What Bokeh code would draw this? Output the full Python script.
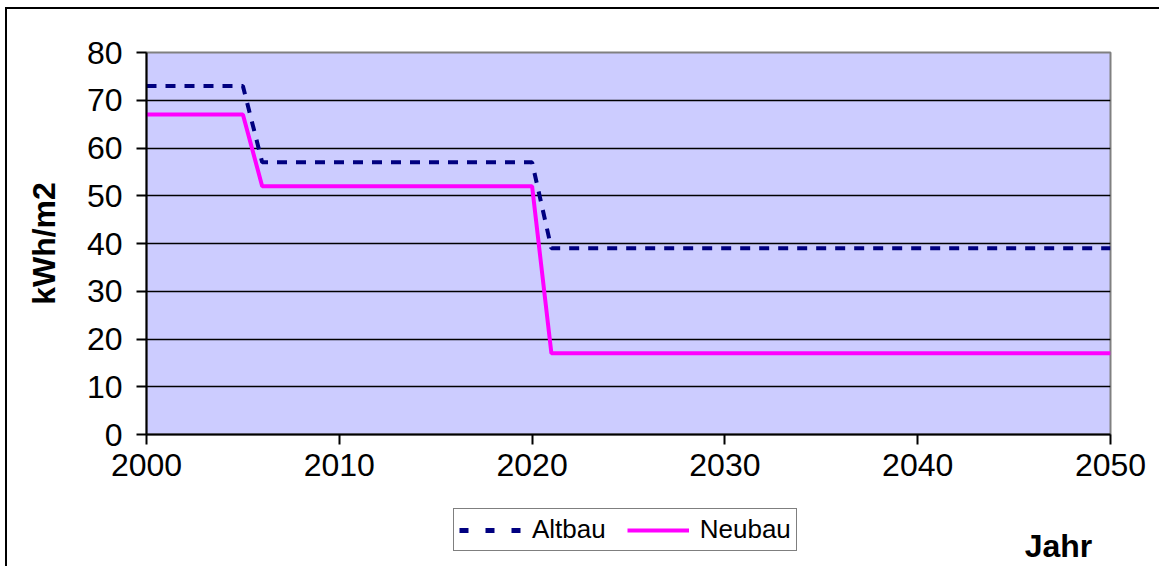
from bokeh.plotting import figure
from bokeh.layouts import column
from bokeh.models import (Range1d, SingleIntervalTicker, Legend, LegendItem,
                          Label)
from bokeh.embed import file_html
from bokeh.resources import INLINE

# ---- data ----
years = [2000, 2005, 2006, 2020, 2021, 2050]
altbau = [73, 73, 57, 57, 39, 39]
neubau = [67, 67, 52, 52, 17, 17]
y_title = "kWh/m2"
x_title = "Jahr"
series_names = ["Altbau", "Neubau"]

FONT = "Liberation Sans"
ALT_STYLE = dict(line_color="#000080", line_width=4, line_dash="10 9")
NEU_STYLE = dict(line_color="#FF00FF", line_width=4)

# ---------------- main chart ----------------
p = figure(width=1159, height=500, frame_width=964, frame_height=382,
           min_border_left=146, min_border_right=49, min_border_top=52,
           min_border_bottom=66, output_backend="svg", toolbar_location=None,
           x_range=Range1d(2000, 2050), y_range=Range1d(0, 80))

# outer chart border (top and left edges)
p.styles = {
    "background-color": "white",
    "background-image": "linear-gradient(black, black), linear-gradient(black, black)",
    "background-size": "2px 100%, 100% 2px",
    "background-position": "5px 7px, 5px 7px",
    "background-repeat": "no-repeat",
}

p.background_fill_color = "#CCCCFF"
p.border_fill_color = None
p.outline_line_color = "#808080"
p.outline_line_width = 2

p.xgrid.visible = False
p.ygrid.grid_line_color = "black"
p.ygrid.grid_line_width = 1.5
p.ygrid.ticker = SingleIntervalTicker(interval=10)

for ax in (p.xaxis[0], p.yaxis[0]):
    ax.axis_line_color = "black"
    ax.axis_line_width = 2
    ax.major_tick_line_color = "black"
    ax.major_tick_line_width = 2
    ax.major_tick_out = 10
    ax.major_tick_in = 0
    ax.minor_tick_line_color = None
    ax.major_label_text_font = FONT
    ax.major_label_text_font_size = "32px"
    ax.major_label_text_color = "black"

p.xaxis.ticker = SingleIntervalTicker(interval=10)
p.yaxis.ticker = SingleIntervalTicker(interval=10)
p.xaxis.major_label_standoff = 9
p.yaxis.major_label_standoff = 14

p.yaxis.axis_label = y_title
p.yaxis.axis_label_text_font = FONT
p.yaxis.axis_label_text_font_style = "bold"
p.yaxis.axis_label_text_font_size = "32px"
p.yaxis.axis_label_text_color = "black"
p.yaxis.axis_label_standoff = 22

p.line(years, altbau, **ALT_STYLE)
p.line(years, neubau, **NEU_STYLE)

# ---------------- bottom strip: legend and "Jahr" ----------------
# (its plot frame is aligned by the column with the main frame: x 146..1110)
q = figure(width=1159, height=66, min_border=0, output_backend="svg",
           toolbar_location=None, x_axis_type=None, y_axis_type=None,
           x_range=Range1d(0, 1), y_range=Range1d(0, 1))
q.styles = {
    "background-color": "white",
    "background-image": "linear-gradient(black, black)",
    "background-size": "2px 100%",
    "background-position": "5px 0px",
    "background-repeat": "no-repeat",
}
q.grid.visible = False
q.outline_line_color = None
q.background_fill_color = None
q.border_fill_color = None

# legend sample renderers (their data lie outside this strip's ranges)
q_alt = q.line(years, altbau, line_color="#000080", line_width=5,
               line_dash="9 17")
q_neu = q.line(years, neubau, **NEU_STYLE)

legend = Legend(items=[LegendItem(label=series_names[0], renderers=[q_alt]),
                       LegendItem(label=series_names[1], renderers=[q_neu])],
                orientation="horizontal", location=(307, 15))
legend.label_text_font = FONT
legend.label_text_font_size = "26px"
legend.label_text_color = "black"
legend.border_line_color = "black"
legend.border_line_width = 1.5
legend.background_fill_color = "white"
legend.background_fill_alpha = 1
legend.padding = 5
legend.margin = 0
legend.spacing = 21
legend.label_standoff = 11
legend.glyph_width = 62
legend.glyph_height = 24
legend.label_height = 24
q.add_layout(legend, "center")

q.add_layout(Label(x=912, y=21, x_units="screen", y_units="screen",
                   text=x_title, text_font=FONT, text_font_style="bold",
                   text_font_size="32px", text_align="center",
                   text_baseline="middle", text_color="black"))

page = column(p, q, spacing=0)
open("out.html", "w").write(file_html(page, INLINE))
